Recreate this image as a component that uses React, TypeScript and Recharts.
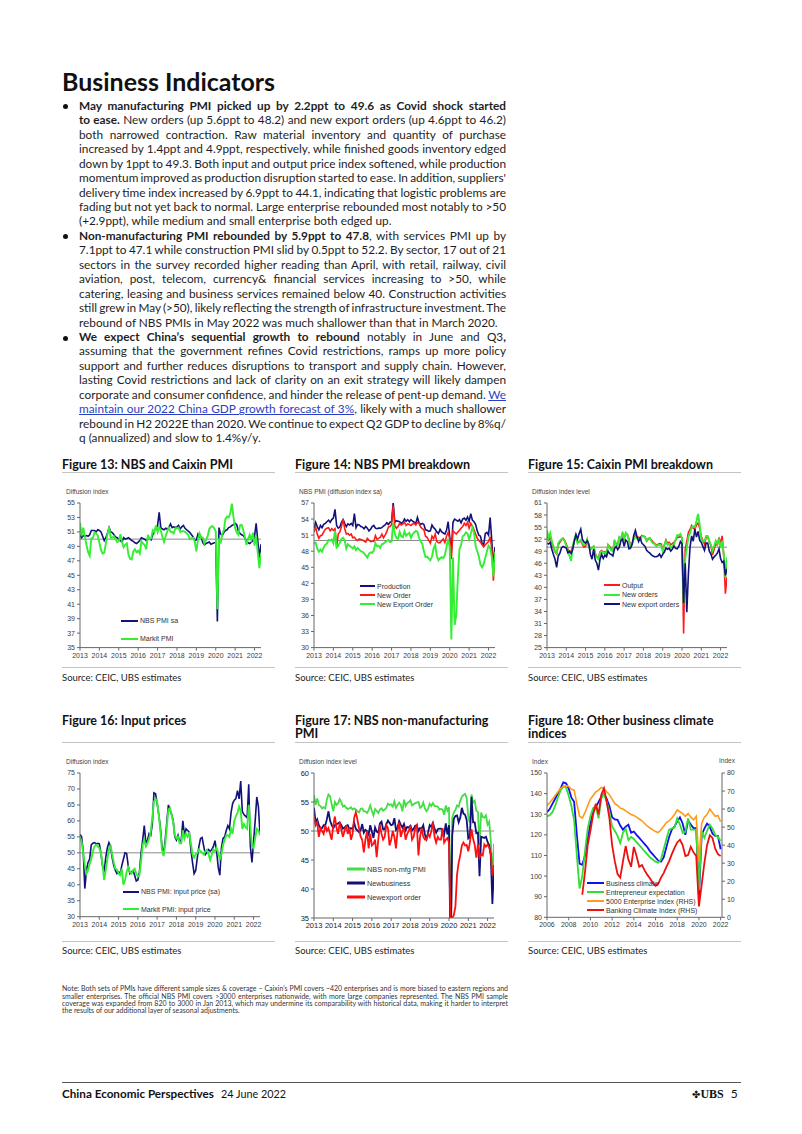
import React, { useLayoutEffect, useRef } from 'react'
import { LineChart, Line, XAxis, YAxis, ReferenceLine } from 'recharts'

// ---------- monthly data, Jan 2013 .. May 2022 ----------
const YEAR_LABELS = ['2013', '2014', '2015', '2016', '2017', '2018', '2019', '2020', '2021', '2022']

// Figure 13
const NBS_PMI_SA = [
  50.6, 50.2, 50.5, 50.4, 50.5, 50.4, 50.6, 51.2, 51.2, 51.2, 51.0, 51.3,
  51.2, 51.0, 50.4, 49.8, 50.2, 50.8, 51.6, 51.0, 50.9, 50.6, 50.3, 50.2,
  50.0, 49.8, 49.6, 50.2, 50.0, 50.1, 50.2, 50.0, 49.8, 49.7, 49.5, 49.4,
  49.6, 49.8, 50.2, 50.1, 50.0, 49.8, 50.0, 50.1, 49.9, 50.6, 51.2, 51.5,
  51.9, 53.7, 51.6, 51.4, 51.3, 51.5, 51.4, 51.6, 52.1, 51.6, 51.7, 51.6,
  51.7, 51.9, 51.4, 51.7, 51.9, 51.5, 51.3, 51.1, 50.9, 50.6, 50.3, 49.8,
  49.9, 50.7, 50.3, 50.3, 49.5, 49.2, 49.4, 49.5, 49.6, 49.3, 49.4, 49.5,
  49.5, 38.6, 51.6, 50.7, 50.5, 50.9, 51.2, 51.3, 51.6, 51.7, 51.9, 52.0,
  52.2, 52.0, 51.1, 50.8, 50.6, 50.5, 50.2, 49.7, 49.5, 49.4, 49.6, 49.8,
  50.4, 52.2, 49.8, 47.4, 49.3,
]
const MARKIT_PMI = [
  52.3, 50.4, 51.6, 50.4, 49.2, 48.2, 47.7, 50.1, 50.2, 50.9, 50.8, 50.5,
  49.5, 48.5, 48.0, 48.1, 49.4, 50.7, 51.7, 50.2, 50.2, 50.4, 50.0, 49.6,
  49.7, 50.7, 49.6, 48.9, 49.2, 49.4, 47.8, 47.3, 47.2, 48.3, 48.6, 48.2,
  48.4, 48.0, 49.7, 49.4, 49.2, 48.6, 50.6, 50.0, 50.1, 51.2, 50.9, 51.9,
  51.0, 51.7, 51.2, 50.3, 49.6, 50.4, 51.1, 51.6, 51.0, 51.0, 50.8, 51.5,
  51.5, 51.6, 51.0, 51.1, 51.1, 51.0, 50.8, 50.6, 50.0, 50.1, 50.2, 49.7,
  48.3, 49.9, 50.8, 50.2, 50.2, 49.4, 49.9, 50.4, 51.4, 51.7, 51.8, 51.5,
  51.1, 40.3, 50.1, 49.4, 50.7, 51.2, 52.8, 53.1, 53.0, 53.6, 54.9, 53.0,
  51.5, 50.9, 50.6, 51.9, 52.0, 51.3, 50.3, 49.2, 50.0, 50.6, 49.9, 50.9,
  49.1, 50.4, 48.1, 46.0, 48.1,
]

// Figure 14
const NBS_PRODUCTION = [
  52.3, 53.4, 52.6, 52.0, 52.8, 52.4, 53.0, 53.2, 53.5, 53.8, 53.4, 53.9,
  54.2, 55.8, 52.8, 52.3, 52.5, 53.4, 53.9, 53.2, 52.6, 53.1, 52.9, 53.2,
  52.8, 55.0, 52.4, 53.0, 52.9, 52.6, 52.5, 52.2, 52.6, 52.3, 51.8, 52.1,
  52.6, 52.8, 52.3, 52.2, 52.3, 52.3, 52.4, 52.7, 52.9, 53.3, 53.0, 53.4,
  53.5, 57.0, 53.4, 53.7, 53.6, 53.5, 53.2, 53.4, 54.0, 53.6, 53.9, 53.5,
  53.9, 53.6, 53.4, 53.2, 54.3, 53.3, 53.0, 53.2, 53.0, 52.0, 51.9, 51.7,
  51.8, 52.9, 52.4, 52.1, 51.6, 51.3, 52.1, 51.6, 51.4, 51.2, 51.9, 53.5,
  50.7, 48.0, 53.4, 54.0, 53.8, 53.6, 53.9, 53.3, 54.0, 54.2, 53.8, 54.4,
  53.6, 55.0, 53.8, 53.5, 53.0, 51.8, 51.0, 50.8, 49.5, 49.2, 51.3, 51.5,
  51.0, 54.3, 50.0, 45.0, 48.8,
]
const NBS_NEW_ORDER = [
  51.6, 52.5, 51.2, 50.4, 50.9, 51.0, 51.6, 52.1, 52.3, 52.4, 51.8, 52.2,
  51.9, 52.2, 48.8, 51.2, 51.6, 52.6, 54.0, 52.2, 51.2, 51.3, 51.0, 51.2,
  50.5, 50.6, 50.2, 50.0, 50.3, 50.2, 50.1, 49.9, 49.7, 50.4, 50.1, 49.8,
  49.9, 49.8, 50.9, 50.2, 50.4, 50.6, 51.2, 50.5, 51.0, 51.6, 52.5, 52.6,
  53.0, 56.5, 52.7, 52.3, 52.6, 53.2, 52.9, 53.1, 53.4, 52.8, 53.1, 53.0,
  52.8, 53.1, 53.2, 52.9, 53.4, 53.2, 52.5, 52.2, 52.0, 50.8, 50.6, 50.0,
  49.5, 50.8, 50.3, 51.2, 49.8, 49.6, 49.6, 50.0, 50.3, 49.6, 50.8, 51.5,
  50.3, 46.5, 51.8, 51.5, 51.2, 51.6, 51.9, 52.3, 52.6, 53.2, 52.8, 53.4,
  52.3, 53.2, 52.7, 52.0, 51.2, 50.4, 50.0, 49.7, 49.2, 48.8, 49.2, 49.5,
  49.8, 50.7, 48.5, 42.5, 48.0,
]
const NBS_NEW_EXPORT = [
  49.5, 49.6, 48.5, 47.9, 48.3, 47.9, 48.7, 49.2, 49.4, 50.1, 50.0, 50.2,
  49.5, 51.8, 48.7, 49.0, 49.6, 50.3, 50.5, 50.0, 48.5, 49.3, 49.0, 48.8,
  48.5, 48.9, 48.2, 48.6, 48.3, 48.0, 47.9, 47.6, 47.2, 46.8, 47.5, 47.8,
  47.7, 48.1, 49.5, 48.9, 49.0, 48.6, 49.3, 49.4, 49.7, 49.9, 50.1, 49.7,
  49.8, 53.3, 51.3, 50.5, 50.3, 51.6, 50.8, 50.6, 51.7, 50.9, 51.2, 51.4,
  50.5, 51.2, 51.5, 51.8, 51.6, 50.5, 49.8, 49.4, 48.0, 46.9, 47.0, 46.6,
  46.3, 47.0, 48.5, 49.2, 47.1, 46.3, 46.7, 46.9, 46.7, 47.3, 48.8, 50.3,
  48.7, 31.5, 46.8, 34.2, 36.0, 43.0, 48.4, 49.1, 50.8, 51.0, 51.5, 51.3,
  50.2, 51.2, 52.4, 51.5, 49.0, 48.0, 47.0, 45.5, 45.0, 45.6, 46.8, 48.0,
  49.0, 48.6, 47.0, 43.3, 47.8,
]

// Figure 15
const CX_OUTPUT = [
  53.5, 51.5, 52.8, 51.0, 49.9, 48.8, 48.3, 50.5, 51.2, 51.8, 52.2, 51.6,
  50.8, 49.5, 48.8, 49.0, 50.3, 51.6, 52.8, 51.2, 51.3, 51.5, 50.7, 50.0,
  50.2, 51.7, 50.3, 49.4, 49.9, 50.2, 48.5, 47.6, 47.4, 48.8, 49.2, 48.7,
  48.9, 48.4, 50.6, 50.2, 49.5, 49.0, 51.5, 50.9, 50.8, 52.4, 51.9, 53.3,
  52.0, 53.4, 53.2, 52.0, 50.3, 51.0, 52.1, 53.0, 52.6, 52.5, 52.3, 52.9,
  52.7, 52.6, 51.5, 52.0, 52.2, 51.8, 51.3, 50.9, 50.5, 50.7, 50.9, 50.8,
  49.6, 50.5, 51.8, 51.0, 51.2, 50.6, 50.9, 51.2, 51.7, 52.4, 52.5, 52.6,
  52.3, 28.5, 49.5, 51.5, 53.7, 54.4, 55.4, 54.7, 54.5, 55.5, 56.0, 54.8,
  52.6, 51.7, 50.7, 52.4, 52.6, 51.5, 50.4, 48.1, 49.5, 50.9, 50.5, 52.4,
  50.9, 52.8, 47.6, 38.4, 42.6,
]
const CX_NEW_ORDERS = [
  54.2, 52.3, 53.5, 51.5, 50.3, 49.0, 48.5, 51.0, 51.6, 52.0, 52.0, 51.5,
  50.3, 49.0, 47.8, 46.6, 50.0, 52.0, 53.2, 51.0, 51.5, 51.8, 51.0, 50.5,
  50.8, 52.0, 50.2, 49.5, 49.8, 50.2, 48.2, 47.5, 47.0, 48.6, 49.0, 48.5,
  48.7, 48.0, 50.5, 49.8, 49.2, 49.0, 51.8, 50.7, 50.5, 52.5, 52.0, 53.8,
  52.2, 53.6, 53.0, 51.7, 50.0, 51.0, 52.0, 52.6, 52.2, 52.0, 51.8, 52.6,
  52.8, 52.4, 51.6, 52.2, 52.3, 51.4, 51.0, 50.8, 50.2, 50.5, 50.6, 50.4,
  49.0, 50.6, 51.5, 50.6, 50.8, 49.8, 50.2, 50.6, 51.8, 53.0, 52.9, 53.3,
  52.2, 35.8, 47.0, 49.8, 52.6, 53.5, 55.0, 55.2, 55.0, 56.5, 58.3, 55.6,
  52.0, 51.4, 51.5, 52.8, 52.8, 51.4, 50.6, 49.2, 50.3, 51.6, 50.8, 51.9,
  49.8, 51.6, 48.3, 42.5, 47.5,
]
const CX_NEW_EXPORT = [
  51.0, 50.8, 51.2, 49.5, 48.2, 47.0, 45.0, 47.8, 48.5, 49.8, 50.2, 50.0,
  49.8, 48.6, 49.0, 48.4, 49.5, 51.5, 53.2, 52.0, 53.4, 54.5, 52.0, 51.3,
  51.0, 51.6, 50.8, 48.2, 47.0, 49.5, 46.8, 46.0, 44.3, 47.0, 48.2, 47.2,
  48.0, 47.6, 49.0, 48.4, 48.2, 47.8, 49.6, 50.2, 49.4, 50.0, 51.6, 52.0,
  50.2, 51.8, 51.4, 49.6, 49.8, 50.7, 53.0, 54.2, 52.6, 51.4, 52.3, 51.0,
  50.6, 50.2, 49.2, 48.8, 48.5, 48.1, 47.8, 47.6, 47.6, 47.8, 48.3, 47.5,
  48.2, 48.8, 49.8, 49.5, 49.7, 49.0, 49.5, 50.3, 49.7, 49.6, 50.2, 51.4,
  50.8, 36.0, 46.0, 33.8, 43.5, 50.0, 52.8, 51.5, 54.5, 52.5, 53.9, 51.7,
  51.2, 50.2, 49.2, 51.0, 51.0, 49.0, 48.3, 47.0, 47.6, 48.0, 48.5, 49.6,
  47.2, 46.2, 46.5, 43.0, 44.6,
]

// Figure 16
const NBS_INPUT_PRICE = [
  55.8, 55.0, 50.5, 38.8, 44.5, 47.0, 48.0, 52.5, 53.0, 53.2, 52.8, 53.0,
  52.8, 50.0, 46.0, 44.0, 48.5, 51.5, 53.2, 52.0, 48.5, 46.0, 44.5, 43.5,
  44.0, 43.5, 46.0, 48.0, 50.0, 49.8, 46.0, 43.5, 44.0, 44.5, 43.0, 41.2,
  41.5, 44.0, 50.0, 54.0, 58.5, 53.0, 54.0, 56.0, 55.5, 59.0, 68.8, 68.5,
  65.5, 62.0, 58.0, 52.0, 49.5, 54.0, 59.5, 65.0, 63.5, 62.0, 60.0, 55.0,
  54.0, 55.5, 53.5, 54.0, 60.0, 55.5, 57.5, 57.0, 56.5, 51.0, 47.0, 43.5,
  44.5, 48.5, 52.0, 54.5, 54.8, 52.0, 49.5, 50.2, 51.0, 50.5, 51.0, 52.0,
  53.8, 50.5, 45.5, 43.0, 51.6, 54.5, 55.0, 57.0, 58.5, 57.5, 62.6, 65.5,
  66.5, 67.0, 69.5, 66.9, 72.5, 63.0, 62.0, 61.5, 61.0, 71.5, 52.0, 47.0,
  53.5, 60.0, 67.5, 64.5, 56.0,
]
const MARKIT_INPUT_PRICE = [
  55.0, 53.5, 50.0, 46.0, 43.5, 44.5, 46.5, 48.0, 50.5, 52.0, 52.5, 52.0,
  51.5, 50.0, 46.5, 41.5, 44.5, 48.0, 51.0, 52.5, 49.5, 47.0, 45.0, 44.8,
  43.5, 43.0, 45.0, 40.0, 41.5, 44.0, 45.5, 44.0, 43.5, 44.5, 45.0, 43.5,
  42.5, 43.0, 47.5, 52.5, 54.0, 52.0, 53.0, 54.5, 56.5, 61.0, 66.0, 67.0,
  66.0, 62.0, 57.0, 51.0, 49.0, 52.5, 58.0, 63.5, 64.0, 62.0, 59.5, 55.5,
  54.5, 55.0, 53.0, 53.0, 57.0, 54.5, 56.0, 55.0, 56.0, 53.0, 49.5, 48.5,
  49.5, 50.0, 51.0, 50.5, 50.0, 49.5, 50.5, 51.0, 49.5, 47.8, 49.5, 51.0,
  50.5, 51.5, 50.0, 48.0, 49.5, 52.5, 54.0, 55.5, 55.5, 55.0, 57.5, 56.0,
  60.0, 61.5, 62.5, 64.5, 63.0, 57.5, 59.0, 58.0, 57.5, 65.0, 58.0, 52.0,
  51.5, 54.5, 57.5, 57.0, 55.5,
]

// Figure 17
const NONMFG_PMI = [
  56.2, 54.5, 55.6, 54.5, 54.3, 53.9, 54.1, 53.9, 55.4, 56.3, 56.0, 54.6,
  53.4, 55.0, 54.5, 54.8, 55.5, 55.0, 54.2, 54.4, 54.0, 53.8, 53.9, 54.1,
  53.7, 53.9, 53.7, 53.4, 53.2, 53.8, 53.9, 53.4, 53.4, 53.1, 53.6, 54.4,
  53.5, 52.7, 53.8, 53.5, 53.1, 53.7, 53.9, 53.5, 53.7, 54.0, 54.7, 54.5,
  54.6, 54.2, 55.1, 54.0, 54.5, 54.9, 54.5, 53.4, 55.4, 54.3, 54.8, 55.0,
  55.3, 54.4, 54.6, 54.8, 54.9, 55.0, 54.0, 54.2, 54.9, 53.9, 53.4, 53.8,
  54.7, 54.3, 54.8, 54.3, 54.3, 54.2, 53.7, 53.8, 53.7, 52.8, 54.4, 53.5,
  54.1, 29.6, 52.3, 53.2, 53.6, 54.4, 54.2, 55.2, 55.9, 56.2, 56.4, 55.7,
  52.4, 51.4, 56.3, 54.9, 55.2, 53.5, 53.3, 47.5, 53.2, 52.4, 52.3, 52.7,
  51.1, 51.6, 48.4, 41.9, 47.8,
]
const NONMFG_NEW_BUSINESS = [
  54.0, 51.5, 52.0, 51.0, 50.5, 50.5, 51.0, 51.0, 52.0, 53.4, 51.8, 51.0,
  50.5, 51.0, 51.2, 51.3, 51.5, 51.0, 50.4, 50.6, 50.9, 51.0, 50.3, 50.5,
  50.3, 51.4, 50.4, 50.1, 49.8, 50.1, 51.2, 49.7, 50.2, 50.0, 49.4, 51.0,
  49.9, 48.8, 50.6, 49.9, 49.7, 51.3, 51.6, 50.3, 50.3, 51.2, 51.8, 51.4,
  51.0, 51.1, 52.2, 50.2, 50.6, 51.7, 51.1, 50.6, 51.2, 50.1, 50.7, 50.6,
  50.9, 50.1, 50.4, 50.9, 51.0, 50.0, 50.5, 50.4, 51.0, 49.4, 48.6, 49.8,
  51.0, 50.7, 51.4, 50.4, 49.7, 50.3, 50.4, 50.4, 50.1, 49.4, 51.3, 49.4,
  51.0, 26.5, 49.2, 52.1, 52.6, 52.7, 51.5, 52.3, 54.0, 53.0, 52.8, 51.9,
  48.7, 48.9, 55.9, 51.5, 51.5, 49.6, 49.7, 42.2, 49.0, 48.9, 48.8, 49.0,
  48.1, 47.6, 45.7, 37.4, 44.1,
]
const NONMFG_NEW_EXPORT = [
  52.5, 51.0, 51.5, 49.0, 50.5, 50.0, 49.5, 51.0, 50.0, 50.5, 49.5, 48.5,
  51.0, 52.5, 50.5, 49.5, 51.5, 50.2, 49.0, 50.0, 51.0, 49.5, 50.5, 48.5,
  49.5, 52.3, 53.2, 52.0, 50.5, 49.0, 48.5, 46.3, 48.5, 50.0, 47.0, 49.5,
  47.5, 47.8, 48.5, 45.5, 48.5, 51.0, 49.5, 48.5, 49.0, 51.0, 50.5, 47.5,
  48.5, 50.0, 49.0, 47.0, 50.0, 51.5, 49.0, 50.0, 50.5, 48.5, 49.5, 50.0,
  51.0, 48.5, 49.0, 50.5, 51.0, 45.8, 49.0, 50.5, 49.0, 48.5, 48.5, 49.5,
  49.0, 50.0, 51.5, 49.0, 48.0, 49.0, 48.5, 48.5, 50.5, 48.0, 48.5, 48.8,
  48.0, 34.0, 35.0, 35.5, 37.0, 42.5, 44.5, 45.8, 47.5, 48.0, 47.5, 47.6,
  46.5, 48.0, 50.3, 48.7, 47.6, 45.4, 47.7, 45.4, 46.0, 45.8, 47.7, 47.3,
  47.7, 47.2, 46.2, 42.3, 44.0,
]

// ---------- quarterly data, 2006Q1 .. 2022Q1 (Figure 18) ----------
const Q_YEAR_LABELS = ['2006', '2008', '2010', '2012', '2014', '2016', '2018', '2020', '2022']
const BUSINESS_CLIMATE = [
  131, 132.5, 135, 137.5, 140, 142.5, 145.5, 145, 142.5, 138, 136, 120, 106, 105.5, 110, 118,
  125.5, 131, 133.5, 136, 138.5, 140, 137.5, 134, 128.5, 127.5, 127.3, 124.5, 122.5, 124, 124.9, 121,
  121.6, 120, 118.5, 117, 115.5, 114, 112, 110.5, 109, 107.5, 107, 109, 114, 119, 122.5, 124,
  126.5, 128.5, 125.5, 120, 127, 125, 123.3, 123.3, 90, 120, 123, 125.5, 124, 120.5, 119.5, 119.5,
  113,
]
const ENTREPRENEUR_EXP = [
  129, 129.5, 131, 134, 138, 141.5, 143.5, 143, 139, 134, 127, 110, 94, 100, 112, 123,
  129, 133, 134, 128, 137.5, 140, 136, 131, 124, 122, 119.5, 116, 121, 123, 117.5, 119,
  118, 116.5, 115, 113.5, 112, 110.5, 109, 108, 107, 106.5, 108, 113, 118, 122.5, 123, 123.5,
  128, 125, 121, 121.5, 128, 122.5, 122.5, 122.5, 93, 122, 118.5, 122, 125, 123, 120, 119,
  117,
]
const ENTERPRISE_5000 = [
  62, 63.5, 65.5, 67.5, 69.5, 71.5, 72.5, 73, 72.5, 71, 70.5, 63, 56, 55, 58, 62,
  65.5, 67.5, 69.5, 70.5, 72, 71.5, 69.5, 68, 65.5, 63, 62, 60.5, 60, 59, 58, 57,
  56.5, 55.5, 54.5, 53.5, 52, 50.5, 49.5, 48.5, 47.5, 47, 48.5, 50.5, 52.5, 53.5, 55, 57,
  59.5, 58.5, 57.5, 56, 57.5, 55.5, 54, 56, 31, 52, 55.5, 57, 60, 58, 56, 56.5,
  53,
]
const BANKING_CLIMATE = [
  null, null, null, null, null, null, null, null, null, null, null, null, null, 12.5, 25, 40,
  48, 57, 63, 57, 68, 71.5, 64, 55, 40, 31, 24, 22, 31, 39.5, 32, 28,
  39, 34, 28, 29, 26, 23.5, 21.5, 19, 17.5, 18.5, 22, 24.5, 28, 31, 35, 38.5,
  41.5, 43, 40, 34, 34.5, 39, 36, 34, 6, 18, 30, 40, 45.5, 44, 38, 35,
  34,
]

function monthly(cols: Record<string, number[]>) {
  return NBS_PMI_SA.map((_, i) => {
    const r: Record<string, number> = { i }
    for (const k in cols) r[k] = cols[k][i]
    return r
  })
}
function quarterly(cols: Record<string, (number | null)[]>) {
  return BUSINESS_CLIMATE.map((_, i) => {
    const r: Record<string, number | null> = { i }
    for (const k in cols) r[k] = cols[k][i]
    return r
  })
}

const fig13 = monthly({ nbs: NBS_PMI_SA, markit: MARKIT_PMI })
const fig14 = monthly({ prod: NBS_PRODUCTION, ord: NBS_NEW_ORDER, exp: NBS_NEW_EXPORT })
const fig15 = monthly({ out: CX_OUTPUT, ord: CX_NEW_ORDERS, exp: CX_NEW_EXPORT })
const fig16 = monthly({ nbs: NBS_INPUT_PRICE, markit: MARKIT_INPUT_PRICE })
const fig17 = monthly({ pmi: NONMFG_PMI, nb: NONMFG_NEW_BUSINESS, exp: NONMFG_NEW_EXPORT })
const fig18 = quarterly({ bc: BUSINESS_CLIMATE, ee: ENTREPRENEUR_EXP, e5: ENTERPRISE_5000, bk: BANKING_CLIMATE })

const M_TICKS = YEAR_LABELS.map((_, k) => k * 12)
const Q_TICKS = Q_YEAR_LABELS.map((_, k) => k * 8)
const mFmt = (v: number) => YEAR_LABELS[v / 12] ?? ''
const qFmt = (v: number) => Q_YEAR_LABELS[v / 8] ?? ''
const range = (a: number, b: number, s: number) => {
  const out: number[] = []
  for (let v = a; v <= b + 1e-9; v += s) out.push(Math.round(v * 10) / 10)
  return out
}

const NAVY = '#12127a'
const GREEN = '#33ee33'
const RED = '#ff1a1a'
const CHART_FONT = '"Liberation Sans", Arial, sans-serif'
const TEXT_FONT = 'Lato, "Open Sans", sans-serif'

type S = { key: string; color: string; w?: number; axis?: 'l' | 'r' }

interface PanelProps {
  px: number; py: number; pw: number; ph: number
  data: any[]; xDomain: [number, number]; xTicks: number[]; xFmt: (v: number) => string
  yDomain: [number, number]; yTicks: number[]
  rDomain?: [number, number]; rTicks?: number[]
  lines: S[]; refY?: number; fs?: number; tickFill?: string
}

function Panel({ px, py, pw, ph, data, xDomain, xTicks, xFmt, yDomain, yTicks, rDomain, rTicks, lines, refY, fs = 7, tickFill = '#3a3a3a' }: PanelProps) {
  const YW = 30, XH = 16, TOP = 10
  const RW = rDomain ? 24 : 0
  const RP = rDomain ? 2 : 6
  const tick = { fontSize: fs, fill: tickFill, fontFamily: CHART_FONT }
  return (
    <div style={{ position: 'absolute', left: px - YW - 2, top: py - TOP }}>
      <LineChart width={pw + YW + 2 + RW + RP} height={ph + TOP + XH} data={data}
        margin={{ top: TOP, right: RP, bottom: 0, left: 2 }}>
        <XAxis type="number" dataKey="i" domain={xDomain} ticks={xTicks} tickFormatter={xFmt} interval={0}
          height={XH} tickSize={3} stroke="#666" tick={tick} allowDataOverflow />
        <YAxis yAxisId="l" domain={yDomain} ticks={yTicks} interval={0} width={YW} tickSize={3}
          stroke="#666" tick={tick} allowDataOverflow />
        {rDomain && (
          <YAxis yAxisId="r" orientation="right" domain={rDomain} ticks={rTicks} interval={0} width={RW}
            tickSize={3} stroke="#666" tick={tick} allowDataOverflow />
        )}
        {refY !== undefined && <ReferenceLine yAxisId="l" y={refY} stroke="#8a8a8a" strokeWidth={1} />}
        {lines.map(s => (
          <Line key={s.key} yAxisId={s.axis ?? 'l'} dataKey={s.key} type="linear" stroke={s.color}
            strokeWidth={s.w ?? 1.6} dot={false} isAnimationActive={false} />
        ))}
      </LineChart>
    </div>
  )
}

function LegendBox({ x, ys, items, len = 17, fs = 7, w = 2, weight = 400 }: { x: number; ys: number[]; items: { label: string; color: string }[]; len?: number; fs?: number; w?: number; weight?: number }) {
  return (
    <>
      {items.map((it, k) => (
        <div key={it.label} style={{ position: 'absolute', left: x, top: ys[k] - 6, height: 12, display: 'flex', alignItems: 'center', whiteSpace: 'nowrap' }}>
          <svg width={len} height={6} style={{ marginRight: 2 }}>
            <line x1={0} y1={3} x2={len} y2={3} stroke={it.color} strokeWidth={w} />
          </svg>
          <span style={{ fontFamily: CHART_FONT, fontSize: fs, color: '#333', fontWeight: weight }}>{it.label}</span>
        </div>
      ))}
    </>
  )
}

const abs = (left: number, top: number, extra: React.CSSProperties = {}): React.CSSProperties => ({ position: 'absolute', left, top, ...extra })

// one line of text, spread to a given width by adjusting the word spacing (or squeezed horizontally)
function TextLine({ left, top, width, mode, style, children }: { left: number; top: number; width: number; mode: 'justify' | 'fit' | 'none'; style: React.CSSProperties; children: React.ReactNode }) {
  const ref = useRef<HTMLSpanElement>(null)
  useLayoutEffect(() => {
    const el = ref.current
    if (!el || mode === 'none') return
    const w = el.getBoundingClientRect().width
    if (mode === 'justify') {
      const n = (el.textContent || '').split(' ').length - 1
      if (n > 0) el.style.wordSpacing = `${(width - w) / n}px`
    } else {
      el.style.transform = `scaleX(${width / w})`
    }
  }, [])
  return (
    <div style={abs(left, top, { ...style, whiteSpace: 'nowrap' })}>
      <span ref={ref} style={{ display: 'inline-block', transformOrigin: 'left center' }}>{children}</span>
    </div>
  )
}

function FigTitle({ x, top, children }: { x: number; top: number; children: React.ReactNode }) {
  return <div style={abs(x, top, { fontFamily: TEXT_FONT, fontWeight: 700, fontSize: 12.5, lineHeight: '13.3px', color: '#111', width: 220 })}>{children}</div>
}
function Rule({ x, y, w = 213 }: { x: number; y: number; w?: number }) {
  return <div style={abs(x, y, { width: w, height: 1, background: '#c4c4c4' })} />
}
function Source({ x, top }: { x: number; top: number }) {
  return <div style={abs(x, top, { fontFamily: TEXT_FONT, fontSize: 9.5, lineHeight: '12px', color: '#222' })}>Source: CEIC, UBS estimates</div>
}
function AxisTitle({ x, top, children }: { x: number; top: number; children: React.ReactNode }) {
  return <div style={abs(x, top, { fontFamily: CHART_FONT, fontSize: 6.5, lineHeight: '8px', color: '#444', whiteSpace: 'nowrap' })}>{children}</div>
}

const B = ({ children }: { children: React.ReactNode }) => <b style={{ fontWeight: 700 }}>{children}</b>
const A = ({ children }: { children: React.ReactNode }) => <span style={{ color: '#2b3fc4', textDecoration: 'underline' }}>{children}</span>

const BODY: { node: React.ReactNode; last?: boolean }[] = [
  { node: <B>May manufacturing PMI picked up by 2.2ppt to 49.6 as Covid shock started</B> },
  { node: <><B>to ease.</B> New orders (up 5.6ppt to 48.2) and new export orders (up 4.6ppt to 46.2)</> },
  { node: 'both narrowed contraction. Raw material inventory and quantity of purchase' },
  { node: 'increased by 1.4ppt and 4.9ppt, respectively, while finished goods inventory edged' },
  { node: 'down by 1ppt to 49.3. Both input and output price index softened, while production' },
  { node: "momentum improved as production disruption started to ease. In addition, suppliers'" },
  { node: 'delivery time index increased by 6.9ppt to 44.1, indicating that logistic problems are' },
  { node: 'fading but not yet back to normal. Large enterprise rebounded most notably to >50' },
  { node: '(+2.9ppt), while medium and small enterprise both edged up.', last: true },
  { node: <><B>Non-manufacturing PMI rebounded by 5.9ppt to 47.8</B>, with services PMI up by</> },
  { node: '7.1ppt to 47.1 while construction PMI slid by 0.5ppt to 52.2. By sector, 17 out of 21' },
  { node: 'sectors in the survey recorded higher reading than April, with retail, railway, civil' },
  { node: 'aviation, post, telecom, currency& financial services increasing to >50, while' },
  { node: 'catering, leasing and business services remained below 40. Construction activities' },
  { node: 'still grew in May (>50), likely reflecting the strength of infrastructure investment. The' },
  { node: 'rebound of NBS PMIs in May 2022 was much shallower than that in March 2020.', last: true },
  { node: <><B>We expect China’s sequential growth to rebound</B> notably in June and Q3<B>,</B></> },
  { node: 'assuming that the government refines Covid restrictions, ramps up more policy' },
  { node: 'support and further reduces disruptions to transport and supply chain. However,' },
  { node: 'lasting Covid restrictions and lack of clarity on an exit strategy will likely dampen' },
  { node: <>corporate and consumer confidence, and hinder the release of pent-up demand. <A>We</A></> },
  { node: <><A>maintain our 2022 China GDP growth forecast of 3%</A>, likely with a much shallower</> },
  { node: 'rebound in H2 2022E than 2020. We continue to expect Q2 GDP to decline by 8%q/' },
  { node: 'q (annualized) and slow to 1.4%y/y.', last: true },
]
const BULLET_LINES = [0, 9, 16]

const NOTE = [
  'Note: Both sets of PMIs have different sample sizes & coverage – Caixin’s PMI covers ~420 enterprises and is more biased to eastern regions and',
  'smaller enterprises. The official NBS PMI covers >3000 enterprises nationwide, with more large companies represented. The NBS PMI sample',
  'coverage was expanded from 820 to 3000 in Jan 2013, which may undermine its comparability with historical data, making it harder to interpret',
  'the results of our additional layer of seasonal adjustments.',
]

export default function App() {
  const LH = 14.45
  const T0 = 98.8
  const bodyStyle: React.CSSProperties = { fontFamily: TEXT_FONT, fontSize: 11.8, lineHeight: `${LH}px`, color: '#1e1e1e' }
  const noteStyle: React.CSSProperties = { fontFamily: TEXT_FONT, fontSize: 7, lineHeight: '7.25px', color: '#333' }
  return (
    <div style={{ position: 'absolute', left: 0, top: 0, width: 802, height: 1134, background: '#fff', overflow: 'hidden' }}>
      <TextLine left={62} top={68.8} width={213} mode="fit"
        style={{ fontFamily: TEXT_FONT, fontWeight: 700, fontSize: 25, lineHeight: '25px', color: '#111' }}>Business Indicators</TextLine>

      {BODY.map((l, n) => (
        <TextLine key={n} left={79} top={T0 + n * LH} width={427} mode={l.last ? 'none' : 'justify'} style={bodyStyle}>{l.node}</TextLine>
      ))}
      {BULLET_LINES.map(n => (
        <div key={n} style={abs(63, T0 + n * LH + 5.5, { width: 5, height: 5, borderRadius: 3, background: '#111' })} />
      ))}

      {/* row 1 */}
      <FigTitle x={62} top={457.5}>Figure 13: NBS and Caixin PMI</FigTitle>
      <FigTitle x={295} top={457.5}>Figure 14: NBS PMI breakdown</FigTitle>
      <FigTitle x={528} top={457.5}>Figure 15: Caixin PMI breakdown</FigTitle>
      <Rule x={62} y={472} /><Rule x={295} y={472} /><Rule x={528} y={472} />
      <AxisTitle x={66} top={488}>Diffusion index</AxisTitle>
      <AxisTitle x={299} top={488}>NBS PMI (diffusion index sa)</AxisTitle>
      <AxisTitle x={532} top={488}>Diffusion index level</AxisTitle>

      <Panel px={80} py={502.7} pw={181} ph={144.6} data={fig13} xDomain={[0, 112]} xTicks={M_TICKS} xFmt={mFmt}
        yDomain={[35, 55]} yTicks={range(35, 55, 2)} refY={50}
        lines={[{ key: 'nbs', color: NAVY }, { key: 'markit', color: GREEN, w: 1.9 }]} />
      <LegendBox x={121} ys={[620.7, 638.7]} items={[{ label: 'NBS PMI sa', color: NAVY }, { label: 'Markit PMI', color: GREEN }]} />

      <Panel px={314} py={502.7} pw={181} ph={144.6} data={fig14} xDomain={[0, 112]} xTicks={M_TICKS} xFmt={mFmt}
        yDomain={[30, 57]} yTicks={range(30, 57, 3)} refY={50}
        lines={[{ key: 'prod', color: NAVY }, { key: 'ord', color: RED }, { key: 'exp', color: GREEN, w: 1.9 }]} />
      <LegendBox x={360} ys={[586, 595, 604]} len={15} items={[{ label: 'Production', color: NAVY }, { label: 'New Order', color: RED }, { label: 'New Export Order', color: GREEN }]} />

      <Panel px={547} py={502.7} pw={180} ph={144.6} data={fig15} xDomain={[0, 112]} xTicks={M_TICKS} xFmt={mFmt}
        yDomain={[25, 61]} yTicks={range(25, 61, 3)} refY={50}
        lines={[{ key: 'out', color: RED }, { key: 'ord', color: GREEN, w: 1.9 }, { key: 'exp', color: NAVY }]} />
      <LegendBox x={604} ys={[585, 594.7, 604.3]} len={16} items={[{ label: 'Output', color: RED }, { label: 'New orders', color: GREEN }, { label: 'New export orders', color: NAVY }]} />

      <Rule x={62} y={667} /><Rule x={295} y={667} /><Rule x={528} y={667} />
      <Source x={62} top={671.7} /><Source x={295} top={671.7} /><Source x={528} top={671.7} />

      {/* row 2 */}
      <FigTitle x={62} top={713.5}>Figure 16: Input prices</FigTitle>
      <FigTitle x={295} top={713.5}>Figure 17: NBS non-manufacturing<br />PMI</FigTitle>
      <FigTitle x={528} top={713.5}>Figure 18: Other business climate<br />indices</FigTitle>
      <Rule x={62} y={742} /><Rule x={295} y={742} /><Rule x={528} y={742} />
      <AxisTitle x={66} top={758}>Diffusion index</AxisTitle>
      <AxisTitle x={299} top={758}>Diffusion index level</AxisTitle>
      <AxisTitle x={532} top={758}>Index</AxisTitle>
      <AxisTitle x={719} top={757}>Index</AxisTitle>

      <Panel px={80} py={773.3} pw={180} ph={143.7} data={fig16} xDomain={[0, 112]} xTicks={M_TICKS} xFmt={mFmt}
        yDomain={[30, 75]} yTicks={range(30, 75, 5)} refY={50}
        lines={[{ key: 'nbs', color: NAVY }, { key: 'markit', color: GREEN, w: 1.9 }]} />
      <LegendBox x={123} ys={[891.7, 909]} len={16} items={[{ label: 'NBS PMI: input price (sa)', color: NAVY }, { label: 'Markit PMI: input price', color: GREEN }]} />

      <Panel px={314} py={773.3} pw={180} ph={145} data={fig17} xDomain={[0, 112]} xTicks={M_TICKS} xFmt={mFmt}
        yDomain={[35, 60]} yTicks={range(35, 60, 5)} refY={50} fs={7.5} tickFill="#222"
        lines={[{ key: 'pmi', color: '#44dd44', w: 1.8 }, { key: 'nb', color: '#10107a', w: 1.8 }, { key: 'exp', color: '#ff1010', w: 1.8 }]} />
      <LegendBox x={347} ys={[869.3, 883, 897]} len={18} w={3} fs={7.3} items={[{ label: 'NBS non-mfg PMI', color: '#44dd44' }, { label: 'Newbusiness', color: '#10107a' }, { label: 'Newexport order', color: '#ff1010' }]} />

      <Panel px={547} py={773.3} pw={175} ph={144.3} data={fig18} xDomain={[0, 64.5]} xTicks={Q_TICKS} xFmt={qFmt}
        yDomain={[80, 150]} yTicks={range(80, 150, 10)} rDomain={[0, 80]} rTicks={range(0, 80, 10)}
        lines={[
          { key: 'bc', color: '#1010ee', w: 1.8 },
          { key: 'ee', color: '#33dd33', w: 1.8 },
          { key: 'e5', color: '#ff9a1a', w: 1.6, axis: 'r' },
          { key: 'bk', color: '#ee1010', w: 1.8, axis: 'r' },
        ]} />
      <LegendBox x={587} ys={[883, 892, 901, 910]} len={17} items={[
        { label: 'Business climate', color: '#1010ee' },
        { label: 'Entrepreneur expectation', color: '#33dd33' },
        { label: '5000 Enterprise index (RHS)', color: '#ff9a1a' },
        { label: 'Banking Climate Index (RHS)', color: '#ee1010' },
      ]} />

      <Rule x={62} y={940.5} /><Rule x={295} y={940.5} /><Rule x={528} y={940.5} />
      <Source x={62} top={944.7} /><Source x={295} top={944.7} /><Source x={528} top={944.7} />

      {NOTE.map((t, n) => (
        <TextLine key={n} left={62} top={985.4 + n * 7.25} width={446} mode={n === NOTE.length - 1 ? 'none' : 'justify'} style={noteStyle}>{t}</TextLine>
      ))}

      <div style={abs(62, 1081.5, { width: 679, height: 1, background: '#555' })} />
      <TextLine left={62} top={1087} width={152} mode="fit"
        style={{ fontFamily: TEXT_FONT, fontWeight: 700, fontSize: 12, lineHeight: '14px', color: '#111' }}>China Economic Perspectives</TextLine>
      <TextLine left={221} top={1087} width={65} mode="fit"
        style={{ fontFamily: TEXT_FONT, fontSize: 12, lineHeight: '14px', color: '#111' }}>24 June 2022</TextLine>
      <div style={abs(692, 1087, { fontFamily: '"Liberation Serif", serif', fontSize: 12, lineHeight: '14px', color: '#111', whiteSpace: 'nowrap' })}>
        <span style={{ fontFamily: '"DejaVu Sans", sans-serif', fontSize: 10 }}>✤</span><b>UBS</b>
        <span style={{ fontFamily: TEXT_FONT, marginLeft: 7 }}>5</span>
      </div>
    </div>
  )
}
